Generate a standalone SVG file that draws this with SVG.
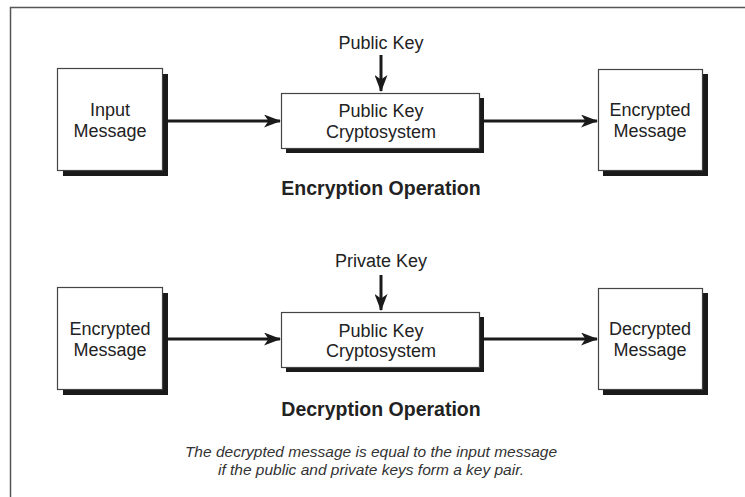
<svg xmlns="http://www.w3.org/2000/svg" width="745" height="497" viewBox="0 0 745 497">
  <style>
    .box { fill: #ffffff; stroke: #444444; stroke-width: 1.2; }
    .shadow { fill: #1a1a1a; }
    .lbl { font-family: "Liberation Sans", Arial, sans-serif; font-size: 18px; fill: #222222; text-anchor: middle; }
    .title { font-family: "Liberation Sans", Arial, sans-serif; font-size: 19.5px; font-weight: bold; fill: #222222; text-anchor: middle; }
    .note { font-family: "Liberation Sans", Arial, sans-serif; font-size: 15.5px; font-style: italic; fill: #333333; text-anchor: middle; }
    .wire { stroke: #1a1a1a; stroke-width: 3; fill: none; }
  </style>
  <defs>
    <marker id="arrow" viewBox="0 0 17 13" refX="16" refY="6.5" markerWidth="17" markerHeight="13" markerUnits="userSpaceOnUse" orient="auto">
      <path d="M0,0 L17,6.5 L0,13 L4.5,6.5 Z" fill="#1a1a1a"/>
    </marker>
  </defs>

  <rect width="745" height="497" fill="#ffffff"/>
  <!-- outer frame (top and left edges) -->
  <path d="M10.5,497 L10.5,7.5 L745,7.5" fill="none" stroke="#555555" stroke-width="1.5"/>

  <!-- connectors -->
  <g id="connectors">
    <line class="wire" x1="165" y1="121" x2="280" y2="121" marker-end="url(#arrow)"/>
    <line class="wire" x1="483" y1="121" x2="597" y2="121" marker-end="url(#arrow)"/>
    <line class="wire" x1="381" y1="55" x2="381" y2="91" marker-end="url(#arrow)"/>
    <line class="wire" x1="165" y1="339" x2="280" y2="339" marker-end="url(#arrow)"/>
    <line class="wire" x1="483" y1="339" x2="597" y2="339" marker-end="url(#arrow)"/>
    <line class="wire" x1="381" y1="275" x2="381" y2="310" marker-end="url(#arrow)"/>
  </g>

  <!-- encryption row -->
  <g id="input-message">
    <rect class="shadow" x="63" y="74" width="105" height="102"/>
    <rect class="box" x="57.5" y="68.5" width="105" height="102"/>
    <text class="lbl" x="110" y="116">Input</text>
    <text class="lbl" x="110" y="137">Message</text>
  </g>
  <g id="enc-public-key-label">
    <text class="lbl" x="381" y="49">Public Key</text>
  </g>
  <g id="enc-cryptosystem">
    <rect class="shadow" x="286" y="98" width="198" height="55"/>
    <rect class="box" x="281.5" y="93.5" width="198" height="55"/>
    <text class="lbl" x="381" y="117">Public Key</text>
    <text class="lbl" x="381" y="138">Cryptosystem</text>
  </g>
  <g id="encrypted-message-out">
    <rect class="shadow" x="603" y="74" width="105" height="102"/>
    <rect class="box" x="598.5" y="69.5" width="104" height="101"/>
    <text class="lbl" x="650" y="116">Encrypted</text>
    <text class="lbl" x="650" y="137">Message</text>
  </g>
  <g id="encryption-title">
    <text class="title" x="381" y="195">Encryption Operation</text>
  </g>

  <!-- decryption row -->
  <g id="encrypted-message-in">
    <rect class="shadow" x="63" y="293" width="105" height="102"/>
    <rect class="box" x="57.5" y="287.5" width="105" height="102"/>
    <text class="lbl" x="110" y="335">Encrypted</text>
    <text class="lbl" x="110" y="356">Message</text>
  </g>
  <g id="dec-private-key-label">
    <text class="lbl" x="381" y="267">Private Key</text>
  </g>
  <g id="dec-cryptosystem">
    <rect class="shadow" x="286" y="317" width="198" height="55"/>
    <rect class="box" x="281.5" y="312.5" width="198" height="55"/>
    <text class="lbl" x="381" y="337">Public Key</text>
    <text class="lbl" x="381" y="357">Cryptosystem</text>
  </g>
  <g id="decrypted-message">
    <rect class="shadow" x="603" y="293" width="105" height="102"/>
    <rect class="box" x="598.5" y="288.5" width="104" height="101"/>
    <text class="lbl" x="650" y="335">Decrypted</text>
    <text class="lbl" x="650" y="356">Message</text>
  </g>
  <g id="decryption-title">
    <text class="title" x="381" y="416">Decryption Operation</text>
  </g>

  <!-- footnote -->
  <g id="note">
    <text class="note" x="371" y="457">The decrypted message is equal to the input message</text>
    <text class="note" x="371" y="475">if the public and private keys form a key pair.</text>
  </g>
</svg>
